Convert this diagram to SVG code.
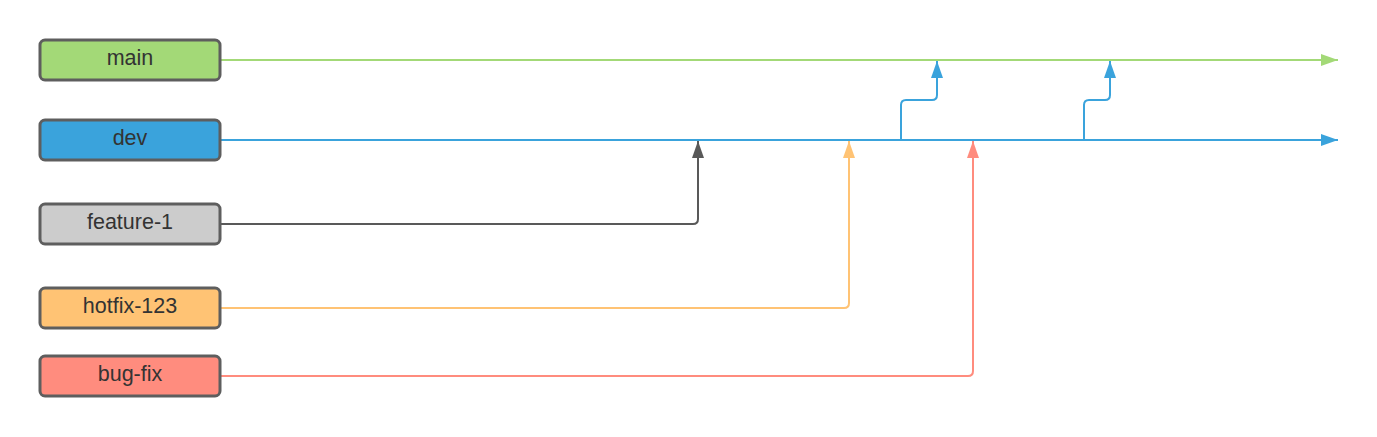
<svg xmlns="http://www.w3.org/2000/svg" width="1377" height="437" viewBox="0 0 1377 437">
<style>
.box{stroke:#5e5e5e;stroke-width:3}
.lbl{font-family:"Liberation Sans",Arial,sans-serif;font-size:21.5px;fill:#333333;text-anchor:middle}
.ln{fill:none;stroke-width:2;stroke-linejoin:round}
</style>
<defs>
<marker id="ag" markerUnits="userSpaceOnUse" markerWidth="18" markerHeight="14" refX="17" refY="6" orient="auto" viewBox="0 0 18 12"><path d="M0,0 L17,6 L0,12 Z" fill="#a3d977"/></marker>
<marker id="ab" markerUnits="userSpaceOnUse" markerWidth="18" markerHeight="14" refX="17" refY="6" orient="auto" viewBox="0 0 18 12"><path d="M0,0 L17,6 L0,12 Z" fill="#3aa3dc"/></marker>
<marker id="ak" markerUnits="userSpaceOnUse" markerWidth="18" markerHeight="14" refX="17" refY="6" orient="auto" viewBox="0 0 18 12"><path d="M0,0 L17,6 L0,12 Z" fill="#595959"/></marker>
<marker id="ao" markerUnits="userSpaceOnUse" markerWidth="18" markerHeight="14" refX="17" refY="6" orient="auto" viewBox="0 0 18 12"><path d="M0,0 L17,6 L0,12 Z" fill="#ffc374"/></marker>
<marker id="ar" markerUnits="userSpaceOnUse" markerWidth="18" markerHeight="14" refX="17" refY="6" orient="auto" viewBox="0 0 18 12"><path d="M0,0 L17,6 L0,12 Z" fill="#ff8c7e"/></marker>
</defs>
<rect width="1377" height="437" fill="#ffffff"/>
<g id="connectors">
<path class="ln" d="M221,60 H1338" stroke="#a3d977" marker-end="url(#ag)"/>
<path class="ln" d="M221,140 H1338" stroke="#3aa3dc" marker-end="url(#ab)"/>
<path class="ln" d="M901,140 V105 Q901,100 906,100 H932 Q937,100 937,95 V61" stroke="#3aa3dc" marker-end="url(#ab)"/>
<path class="ln" d="M1084,140 V105 Q1084,100 1089,100 H1105 Q1110,100 1110,95 V61" stroke="#3aa3dc" marker-end="url(#ab)"/>
<path class="ln" d="M221,224 H693 Q698,224 698,219 V141" stroke="#595959" marker-end="url(#ak)"/>
<path class="ln" d="M221,308 H844 Q849,308 849,303 V141" stroke="#ffc374" marker-end="url(#ao)"/>
<path class="ln" d="M221,376 H968 Q973,376 973,371 V141" stroke="#ff8c7e" marker-end="url(#ar)"/>
</g>
<g id="main"><rect class="box" x="40" y="40" width="180" height="40" rx="5" fill="#a3d977"/><text class="lbl" x="130" y="65">main</text></g>
<g id="dev"><rect class="box" x="40" y="120" width="180" height="40" rx="5" fill="#3aa3dc"/><text class="lbl" x="130" y="145">dev</text></g>
<g id="feature-1"><rect class="box" x="40" y="204" width="180" height="40" rx="5" fill="#cccccc"/><text class="lbl" x="130" y="229">feature-1</text></g>
<g id="hotfix-123"><rect class="box" x="40" y="288" width="180" height="40" rx="5" fill="#ffc374"/><text class="lbl" x="130" y="313">hotfix-123</text></g>
<g id="bug-fix"><rect class="box" x="40" y="356" width="180" height="40" rx="5" fill="#ff8c7e"/><text class="lbl" x="130" y="381">bug-fix</text></g>
</svg>
